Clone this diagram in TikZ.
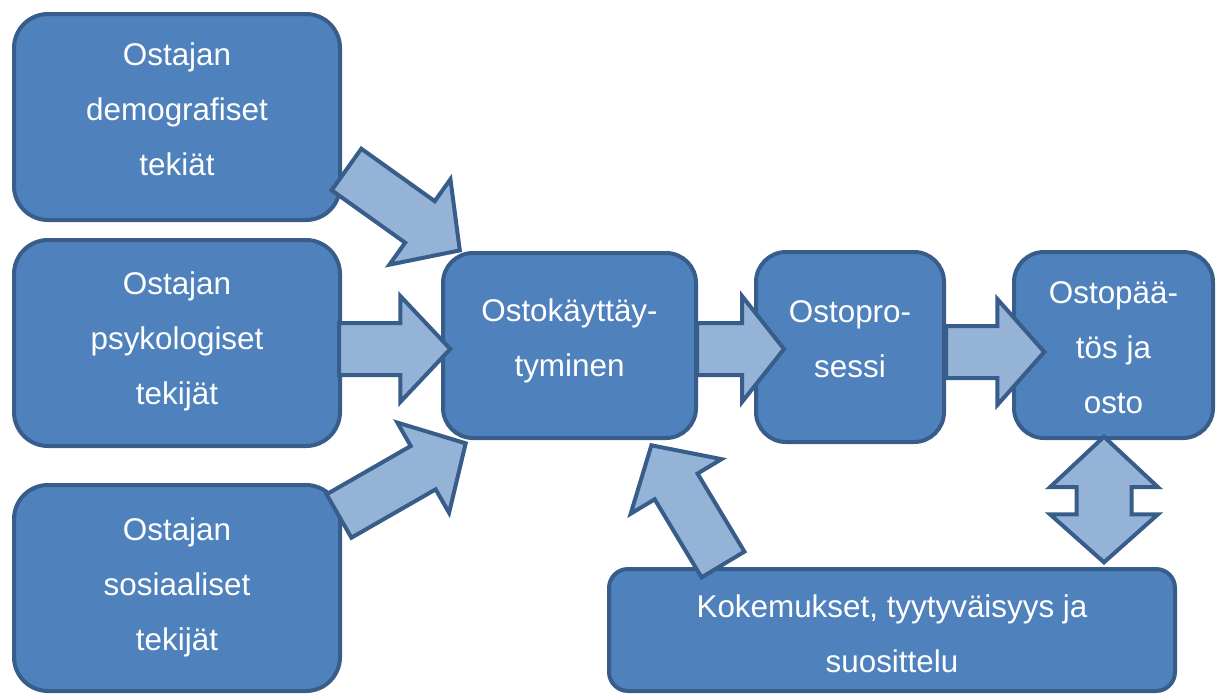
\documentclass[tikz,border=0pt]{standalone}
\usepackage{fontspec}
\setmainfont{Liberation Sans}
\usetikzlibrary{calc}
\definecolor{boxfill}{HTML}{4F81BD}
\definecolor{boxline}{HTML}{385D8A}
\definecolor{arrfill}{HTML}{95B3D7}
% block arrow: #1 tail, #2 tip, #3 shaft half width, #4 head half width, #5 head length
\newcommand\blockarrow[5]{%
  \coordinate (ba-n) at ($(#2)!#5!(#1)$);
  \draw[arrowshape] ($(#1)!#3!90:(#2)$) -- ($(ba-n)!#3!90:(#2)$) -- ($(ba-n)!#4!90:(#2)$)
    -- (#2) -- ($(ba-n)!#4!-90:(#2)$) -- ($(ba-n)!#3!-90:(#2)$) -- ($(#1)!#3!-90:(#2)$) -- cycle;}
\begin{document}
\begin{tikzpicture}[x=1pt,y=-1pt,
  box/.style={draw=boxline, fill=boxfill, line width=4pt, inner sep=0pt, rectangle},
  arrowshape/.style={draw=boxline, fill=arrfill, line width=4pt, line join=miter},
  boxtext/.style={text=white, align=center, inner sep=0pt, font=\fontsize{31.4pt}{55pt}\selectfont}]
\useasboundingbox (0,0) rectangle (1224,697);

% boxes
\node[box, minimum width=326pt, minimum height=206pt, rounded corners=34pt] (b1) at (177,117) {};
\node[box, minimum width=326pt, minimum height=206pt, rounded corners=34pt] (b2) at (177,343) {};
\node[box, minimum width=326pt, minimum height=206pt, rounded corners=34pt] (b3) at (177,588) {};
\node[box, minimum width=253pt, minimum height=185pt, rounded corners=30pt] (b4) at (569.5,345.5) {};
\node[box, minimum width=188pt, minimum height=190pt, rounded corners=30pt] (b5) at (850,347) {};
\node[box, minimum width=199pt, minimum height=186pt, rounded corners=30pt] (b6) at (1113.5,345) {};
\node[box, minimum width=566pt, minimum height=122pt, rounded corners=19pt] (b7) at (892,630) {};

% arrow end points
\coordinate (a1t) at (346.5,169.5); \coordinate (a1h) at (459.8,250.4);
\coordinate (a2t) at (339,349);     \coordinate (a2h) at (450.3,349);
\coordinate (a3t) at (339,516);     \coordinate (a3h) at (465.7,443.3);
\coordinate (a4t) at (697,349);     \coordinate (a4h) at (784,349);
\coordinate (a5t) at (946,352);     \coordinate (a5h) at (1044.3,352);
\coordinate (a6t) at (723,564.5);   \coordinate (a6h) at (651.4,445.3);
\coordinate (a7u) at (1104,436.7);  \coordinate (a7d) at (1104,562.3);

% arrows
\blockarrow{a1t}{a1h}{25.5pt}{52.5pt}{49pt}
\blockarrow{a2t}{a2h}{26pt}{53pt}{50pt}
\blockarrow{a3t}{a3h}{25pt}{52pt}{49pt}
\blockarrow{a4t}{a4h}{26pt}{53pt}{42pt}
\blockarrow{a5t}{a5h}{26pt}{53pt}{47pt}
\blockarrow{a6t}{a6h}{25pt}{53pt}{48pt}
% double arrow
\coordinate (dn1) at ($(a7u)!50.5pt!(a7d)$);
\coordinate (dn2) at ($(a7d)!48pt!(a7u)$);
\draw[arrowshape] (a7u) -- ($(dn1)+(54,0)$) -- ($(dn1)+(27.5,0)$) -- ($(dn2)+(27.5,0)$)
  -- ($(dn2)+(54,0)$) -- (a7d) -- ($(dn2)+(-54,0)$) -- ($(dn2)+(-27.5,0)$)
  -- ($(dn1)+(-27.5,0)$) -- ($(dn1)+(-54,0)$) -- cycle;

% texts
\node[boxtext] (t1) at (177,109.5) {\strut Ostajan\\\strut demografiset\\\strut tekiät};
\node[boxtext] (t2) at (177,338.3) {\strut Ostajan\\\strut psykologiset\\\strut tekijät};
\node[boxtext] (t3) at (177,584) {\strut Ostajan\\\strut sosiaaliset\\\strut tekijät};
\node[boxtext] (t4) at (569.5,337.5) {\strut Ostokäyttäy-\\\strut tyminen};
\node[boxtext] (t5) at (850,339) {\strut Ostopro-\\\strut sessi};
\node[boxtext] (t6) at (1113.5,347) {\strut Ostopää-\\\strut tös ja\\\strut osto};
\node[boxtext] (t7) at (892,633.5) {\strut Kokemukset, tyytyväisyys ja\\\strut suosittelu};
\end{tikzpicture}
\end{document}
